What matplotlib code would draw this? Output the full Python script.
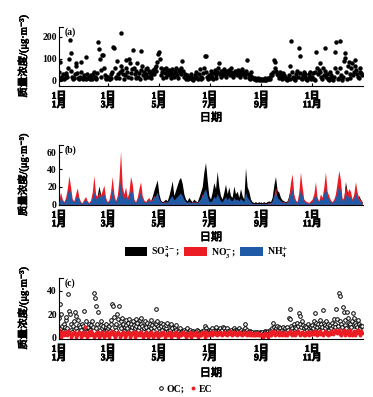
import numpy as np
import matplotlib
matplotlib.use("Agg")
import matplotlib.pyplot as plt
import matplotlib.patheffects as pe
from matplotlib.patches import Patch
from matplotlib.lines import Line2D

# 字体: 西文用衬线粗体, 中文用思源黑体
plt.rcParams['font.family'] = ['Liberation Serif', 'Noto Sans CJK SC', 'DejaVu Sans']
plt.rcParams['font.weight'] = 'bold'
plt.rcParams['mathtext.fontset'] = 'stix'
plt.rcParams['mathtext.default'] = 'bf'

# (a) 日均 PM2.5 质量浓度, 逐日 (1月1日 - 12月31日)
pm25 = [
    40, 88, 20, 10, 15, 30, 8, 12, 25, 35, 18, 60, 100, 186, 127, 45, 20, 10, 15, 30, 70, 82, 35, 12, 8, 20, 85, 40, 15, 10, 25,  # 1月
    15, 10, 110, 30, 12, 20, 8, 15, 25, 10, 30, 40, 18, 8, 12, 35, 179, 145, 100, 50, 20, 118, 120, 60, 25, 15, 10, 20,  # 2月
    20, 10, 8, 30, 15, 40, 156, 150, 60, 20, 12, 90, 30, 15, 40, 70, 217, 50, 30, 10, 25, 60, 95, 40, 20, 100, 80, 35, 15, 55, 140,  # 3月
    60, 30, 15, 45, 80, 20, 35, 10, 50, 137, 70, 25, 40, 15, 30, 55, 60, 20, 45, 35, 25, 15, 40, 50, 30, 60, 70, 45, 85, 124,  # 4月
    130, 100, 60, 25, 40, 15, 55, 35, 20, 60, 45, 30, 50, 25, 15, 40, 55, 30, 20, 45, 60, 35, 25, 15, 50, 40, 30, 60, 90, 45, 20,  # 5月
    30, 15, 10, 25, 8, 20, 12, 30, 18, 10, 5, 15, 25, 40, 20, 12, 8, 30, 55, 20, 10, 15, 35, 60, 115, 112, 40, 20, 10, 25,  # 6月
    15, 30, 45, 20, 10, 35, 50, 25, 15, 40, 60, 83, 30, 20, 45, 35, 25, 55, 40, 30, 20, 45, 35, 50, 25, 40, 60, 30, 20, 35, 45,  # 7月
    30, 40, 25, 50, 35, 20, 45, 30, 55, 40, 25, 35, 20, 45, 97, 30, 15, 25, 10, 40, 20, 12, 8, 15, 10, 5, 8, 12, 6, 10, 8,  # 8月
    5, 8, 4, 10, 6, 12, 5, 8, 15, 7, 10, 20, 30, 25, 40, 95, 85, 60, 45, 30, 25, 15, 40, 30, 20, 10, 35, 25, 15, 20,  # 9月
    10, 5, 15, 25, 8, 70, 180, 40, 20, 10, 5, 15, 30, 45, 20, 150, 115, 35, 15, 10, 25, 40, 30, 20, 10, 5, 15, 30, 20, 40, 10,  # 10月
    20, 35, 10, 5, 40, 130, 60, 30, 50, 80, 40, 20, 10, 60, 25, 150, 45, 20, 30, 10, 5, 15, 40, 25, 10, 5, 20, 60, 130, 175,  # 11月
    40, 10, 15, 180, 60, 25, 5, 20, 90, 128, 105, 40, 10, 70, 85, 30, 15, 60, 80, 25, 40, 95, 70, 50, 30, 20, 15, 40, 60, 35, 25,  # 12月
]

# (b) 水溶性离子, 每两天一个值
no3 = [
    5, 14, 6, 3, 8, 18, 33, 20, 6, 4,
    12, 19, 8, 3, 2, 6, 9, 4, 2, 5,
    14, 33, 12, 8, 15, 10, 16, 22, 8, 3,
    5, 15, 32, 12, 4, 10, 28, 61, 20, 12,
    20, 8, 14, 32, 24, 6, 3, 8, 18, 26,
    10, 5, 3, 6, 8, 4, 6, 10, 8, 12,
    6, 3, 2, 3, 2, 3, 4, 5, 4, 3,
    4, 6, 5, 8, 6, 4, 3, 2, 3, 2,
    3, 2, 3, 2, 4, 6, 12, 8, 10, 5,
    3, 2, 3, 4, 3, 5, 4, 3, 2, 4,
    5, 3, 4, 3, 2, 4, 3, 2, 3, 4,
    3, 2, 4, 3, 2, 2, 1, 1, 1, 1,
    1, 1, 1, 1, 1, 1, 2, 2, 3, 10,
    20, 8, 6, 4, 3, 3, 2, 3, 8, 25,
    35, 12, 5, 3, 14, 37, 20, 6, 4, 3,
    2, 4, 6, 12, 26, 8, 4, 12, 8, 20,
    37, 15, 10, 5, 3, 6, 12, 25, 39, 28,
    6, 8, 22, 12, 18, 15, 6, 12, 26, 14,
    8, 5, 3,
]
so4 = [
    3, 4, 3, 2, 4, 5, 8, 6, 3, 2,
    5, 6, 4, 2, 1, 3, 4, 2, 1, 3,
    5, 8, 6, 10, 21, 12, 8, 9, 4, 2,
    3, 5, 10, 5, 3, 5, 8, 15, 7, 5,
    6, 4, 6, 9, 8, 4, 2, 5, 7, 9,
    6, 4, 3, 5, 6, 4, 9, 16, 22, 28,
    12, 5, 3, 4, 6, 4, 10, 18, 27, 10,
    16, 22, 28, 31, 24, 12, 6, 4, 8, 5,
    3, 6, 4, 3, 8, 14, 20, 37, 48, 28,
    10, 6, 14, 25, 18, 38, 20, 10, 6, 14,
    23, 12, 20, 10, 8, 21, 12, 15, 8, 18,
    10, 6, 42, 20, 15, 6, 3, 2, 3, 2,
    3, 2, 2, 3, 2, 3, 4, 3, 8, 22,
    32, 16, 14, 8, 5, 4, 3, 4, 10, 20,
    18, 8, 4, 3, 6, 10, 7, 4, 3, 2,
    2, 3, 4, 5, 7, 4, 3, 5, 4, 7,
    10, 6, 5, 3, 2, 4, 8, 20, 30, 18,
    4, 6, 26, 15, 8, 6, 3, 5, 8, 6,
    10, 6, 3,
]
nh4 = [
    3, 8, 4, 2, 5, 10, 20, 12, 4, 3,
    7, 11, 5, 2, 1, 4, 5, 3, 1, 3,
    8, 14, 7, 6, 12, 8, 10, 12, 5, 2,
    3, 8, 17, 7, 3, 6, 14, 28, 10, 7,
    10, 5, 8, 17, 14, 4, 2, 5, 10, 14,
    6, 3, 2, 4, 5, 3, 5, 8, 10, 14,
    6, 3, 2, 2, 3, 2, 5, 8, 10, 5,
    7, 9, 11, 13, 10, 6, 3, 2, 3, 2,
    2, 3, 2, 2, 4, 6, 10, 14, 18, 10,
    4, 3, 5, 9, 7, 12, 8, 4, 3, 6,
    9, 5, 8, 5, 4, 8, 5, 6, 4, 7,
    5, 3, 14, 8, 6, 3, 1, 1, 1, 1,
    1, 1, 1, 1, 1, 1, 2, 1, 4, 10,
    14, 8, 6, 4, 3, 2, 2, 2, 6, 14,
    17, 7, 3, 2, 8, 17, 10, 4, 2, 2,
    1, 2, 3, 7, 12, 5, 3, 7, 5, 12,
    20, 9, 6, 3, 2, 4, 7, 14, 22, 14,
    4, 5, 12, 8, 10, 8, 4, 7, 14, 8,
    5, 3, 2,
]

# (c) OC 和 EC, 逐日
oc = [
    17, 29, 20, 8, 10, 6, 12, 9, 15, 18, 8, 37, 23, 20, 12, 7, 5, 10, 14, 22, 19, 8, 6, 15, 11, 9, 5, 7, 12, 10, 23,
    8, 6, 14, 5, 9, 12, 7, 10, 11, 14, 9, 38, 34, 27, 8, 12, 22, 5, 7, 11, 14, 8, 10, 6, 5, 9, 12, 7,
    8, 10, 6, 12, 15, 29, 27, 18, 9, 7, 12, 20, 16, 27, 10, 8, 14, 17, 12, 6, 9, 15, 11, 8, 13, 16, 10, 7, 12, 9, 14,
    11, 8, 16, 10, 13, 7, 9, 15, 12, 17, 10, 6, 8, 14, 11, 9, 13, 7, 10, 12, 8, 15, 11, 6, 9, 13, 25, 12, 14, 10,
    8, 6, 13, 10, 7, 12, 9, 5, 8, 11, 13, 6, 4, 7, 10, 12, 8, 5, 6, 9, 11, 7, 5, 4, 6, 8, 5, 4, 6, 5, 7,
    5, 4, 6, 8, 5, 4, 7, 5, 3, 4, 6, 5, 4, 3, 5, 7, 6, 4, 5, 3, 4, 6, 5, 7, 10, 8, 6, 5, 4, 7,
    6, 5, 7, 8, 6, 4, 5, 7, 9, 6, 5, 7, 8, 6, 5, 7, 9, 8, 6, 5, 7, 8, 6, 5, 4, 6, 7, 5, 6, 8, 7,
    6, 5, 7, 6, 8, 5, 6, 7, 5, 4, 6, 12, 8, 6, 7, 5, 4, 6, 5, 4, 5, 3, 4, 5, 3, 4, 5, 4, 3, 5, 4,
    4, 5, 3, 4, 6, 5, 4, 5, 6, 4, 5, 7, 6, 8, 13, 9, 7, 6, 8, 10, 7, 9, 8, 6, 5, 7, 9, 6, 5, 8,
    6, 9, 7, 17, 25, 16, 10, 8, 6, 12, 9, 7, 8, 13, 10, 21, 19, 12, 9, 14, 11, 8, 6, 10, 9, 7, 12, 8, 6, 10, 9,
    11, 8, 14, 10, 21, 13, 9, 12, 7, 10, 15, 12, 9, 24, 13, 11, 8, 14, 10, 12, 7, 9, 11, 8, 13, 10, 16, 12, 9, 25,
    16, 10, 38, 36, 14, 12, 9, 26, 22, 15, 11, 8, 22, 17, 13, 10, 12, 9, 14, 21, 17, 10, 13, 11, 9, 15, 12, 10, 8, 10, 10,
]
ec = [
    7, 4, 3, 1, 3, 5, 2, 3, 5, 4, 2, 6, 4, 3, 1, 3, 2, 4, 5, 3, 1, 3, 2, 4, 5, 3, 1, 3, 4, 2, 5,
    9, 4, 2, 1, 3, 5, 2, 3, 6, 4, 2, 1, 3, 2, 4, 5, 3, 1, 3, 2, 4, 5, 3, 1, 3, 2, 4, 5,
    3, 1, 3, 5, 3, 6, 4, 2, 1, 3, 2, 4, 5, 3, 1, 3, 2, 4, 5, 3, 1, 3, 2, 4, 5, 3, 1, 3, 2, 4, 5,
    3, 1, 3, 5, 3, 2, 4, 2, 3, 5, 3, 1, 3, 2, 4, 5, 3, 1, 3, 2, 4, 5, 3, 1, 3, 2, 4, 5, 3, 1,
    3, 2, 4, 2, 3, 5, 3, 1, 3, 2, 4, 2, 3, 5, 3, 1, 3, 2, 4, 2, 3, 5, 3, 1, 3, 2, 4, 2, 3, 5, 3,
    2, 3, 1, 3, 2, 4, 5, 3, 1, 3, 2, 4, 2, 3, 5, 3, 1, 3, 2, 4, 2, 3, 5, 3, 1, 3, 5, 3, 2, 4,
    3, 5, 3, 2, 4, 5, 3, 4, 3, 2, 4, 5, 3, 4, 3, 2, 4, 5, 3, 4, 3, 2, 4, 5, 6, 4, 3, 2, 4, 5, 3,
    4, 3, 2, 4, 5, 3, 4, 3, 2, 4, 5, 3, 4, 3, 2, 4, 5, 3, 2, 4, 2, 3, 2, 4, 2, 3, 2, 4, 2, 3, 2,
    2, 3, 1, 3, 2, 4, 2, 3, 1, 3, 5, 3, 2, 4, 6, 4, 3, 2, 4, 5, 3, 2, 4, 5, 3, 2, 4, 5, 3, 2,
    3, 2, 4, 5, 6, 4, 3, 2, 4, 5, 3, 2, 4, 5, 6, 4, 3, 2, 4, 5, 3, 2, 4, 2, 3, 5, 3, 2, 4, 5, 3,
    3, 5, 3, 6, 4, 3, 2, 4, 5, 3, 6, 4, 3, 2, 4, 5, 6, 4, 3, 2, 4, 5, 3, 6, 4, 3, 5, 6, 7, 5,
    4, 6, 7, 5, 3, 2, 4, 6, 7, 4, 2, 4, 6, 4, 2, 5, 7, 4, 2, 4, 6, 4, 2, 4, 6, 7, 4, 2, 4, 6, 4,
]

# 横坐标刻度 (每两个月的1日)
tick_days = [0, 59, 120, 181, 243, 304]
tick_labels = ["1日\n1月", "1日\n3月", "1日\n5月", "1日\n7月", "1日\n9月", "1日\n11月"]

days = np.arange(len(pm25))
days2 = np.arange(len(no3)) * 2

RED = "#ec1c24"
BLUE = "#1f5aa6"
# 中文字体没有粗体, 用描边加粗
BOLD = [pe.withStroke(linewidth=0.5, foreground='k')]


def estilo(ax, ylim, yticks, letra, xlab_y):
    ax.set_xlim(0, 365)
    ax.set_ylim(*ylim)
    ax.set_yticks(yticks)
    ax.set_xticks(tick_days)
    ax.set_xticklabels(tick_labels, fontsize=7, linespacing=0.95)
    for t in ax.get_xticklabels():
        t.set_path_effects(BOLD)
    ax.tick_params(axis='y', direction='in', length=2.5, width=0.8, pad=1.5, labelsize=7)
    ax.tick_params(axis='x', direction='in', length=2.5, width=0.8, pad=4)
    for s in ['top', 'right']:
        ax.spines[s].set_visible(False)
    for s in ['left', 'bottom']:
        ax.spines[s].set_linewidth(0.8)
    # 纵轴顶端的短横
    ax.plot([0, 0.015], [1, 1], transform=ax.transAxes, color='k', lw=0.8, clip_on=False)
    ax.text(0.018, 1.0, letra, transform=ax.transAxes, ha='left', va='top', fontsize=7)
    ax.set_ylabel("质量浓度/(μg·m⁻³)", fontsize=7.5, va='center', path_effects=BOLD)
    ax.yaxis.set_label_coords(-0.118, 0.5)
    ax.set_xlabel("日期", fontsize=8, va='center', path_effects=BOLD)
    ax.xaxis.set_label_coords(0.5, xlab_y)


fig = plt.figure(figsize=(3.73, 3.97), dpi=100)
ax1 = fig.add_axes([0.158, 0.7834, 0.815, 0.1486])
ax2 = fig.add_axes([0.158, 0.4836, 0.815, 0.151])
ax3 = fig.add_axes([0.158, 0.1461, 0.815, 0.1536])

# (a)
ax1.plot(days, pm25, 'o', color='k', ms=3.2, mew=0)
estilo(ax1, (-23, 245), [0, 100, 200], "(a)", -0.54)

# (b) 面积图, 相互覆盖
ax2.fill_between(days2, 0, so4, color='k', lw=0, zorder=1)
ax2.fill_between(days2, 0, no3, color=RED, lw=0, zorder=2)
ax2.fill_between(days2, 0, nh4, color=BLUE, lw=0, zorder=3)
estilo(ax2, (-0.8, 68), [0, 20, 40, 60], "(b)", -0.54)
hb = [Patch(facecolor='k'), Patch(facecolor=RED), Patch(facecolor=BLUE)]
ax2.legend(hb, [r"SO$_4^{2-}$;", r"NO$_3^{-}$;", r"NH$_4^{+}$"], loc='center',
           bbox_to_anchor=(0.485, -0.78), ncol=3, frameon=False, fontsize=7,
           handlelength=2.3, handleheight=1.1, handletextpad=0.4, columnspacing=0.5,
           borderaxespad=0, borderpad=0)

# (c)
ax3.plot(days, oc, 'o', mfc='white', mec='k', mew=0.7, ms=2.6)
ax3.plot(days, ec, 'o', color=RED, ms=2.8, mew=0)
estilo(ax3, (-1, 51), [0, 20, 40], "(c)", -0.56)
hc = [Line2D([], [], marker='o', ls='', mfc='white', mec='k', mew=0.7, ms=2.6),
      Line2D([], [], marker='o', ls='', color=RED, ms=2.8, mew=0)]
ax3.legend(hc, ["OC;", "EC"], loc='center', bbox_to_anchor=(0.415, -0.82), ncol=2,
           frameon=False, fontsize=7, handlelength=0.6, handletextpad=0.3,
           columnspacing=0.6, borderaxespad=0, borderpad=0)

fig.savefig("out.png", dpi=100)
